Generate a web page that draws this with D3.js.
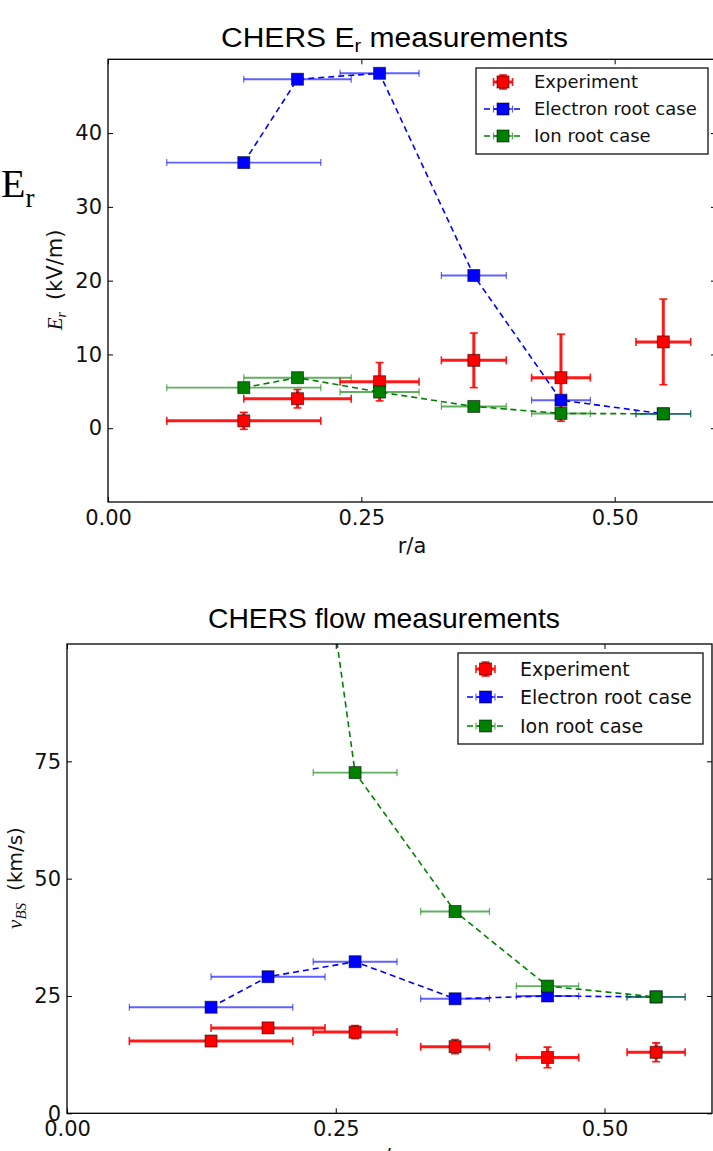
<!DOCTYPE html>
<html>
<head>
<meta charset="utf-8">
<script src="https://cdn.jsdelivr.net/npm/d3@7"></script>
<style>
  body { margin: 0; background: #fff; }
  svg { display: block; }
</style>
</head>
<body>
<svg width="713" height="1151"></svg>
<script>
// radial positions (r/a) and their horizontal error, shared by both panels
const radius = [0.134, 0.187, 0.268, 0.361, 0.447, 0.548]
const radiusErr = [0.076, 0.053, 0.039, 0.032, 0.029, 0.027]

// E_r panel (kV/m)
const erExperiment = [1.0, 4.0, 6.3, 9.2, 6.85, 11.7]
const erExperimentErr = [1.15, 1.25, 2.6, 3.7, 5.9, 5.8]
const erElectron = [36.0, 47.3, 48.1, 20.7, 3.8, 1.95]
const erIon = [5.5, 6.85, 4.9, 2.95, 2.0, 1.95]

// flow panel (km/s)
const flowExperiment = [15.4, 18.2, 17.3, 14.2, 11.9, 13.0]
const flowExperimentErr = [0.8, 0.8, 1.4, 1.5, 2.2, 2.0]
const flowElectron = [22.6, 29.1, 32.3, 24.4, 25.0, 24.8]
const flowIon = [260, 206, 72.6, 43.0, 27.1, 24.8]

const seriesNames = ['Experiment', 'Electron root case', 'Ion root case']
const seriesColors = ['#ff0000', '#0000ff', '#008000']

const xTicks = [0, 0.25, 0.5]
const erTicks = [0, 10, 20, 30, 40]
const flowTicks = [0, 25, 50, 75]

const svg = d3.select('svg')
const sans = 'DejaVu Sans, sans-serif'
const serif = 'Liberation Serif, serif'

function makeSeries(exp, expErr, electron, ion) {
  return [
    { name: seriesNames[0], color: seriesColors[0], values: exp, yErr: expErr, line: false },
    { name: seriesNames[1], color: seriesColors[1], values: electron, yErr: null, line: true },
    { name: seriesNames[2], color: seriesColors[2], values: ion, yErr: null, line: true },
  ]
}

function errorBar(g, x0, y0, x1, y1, color, exp, capAxis) {
  const w = exp ? 3 : 1.9
  const op = exp ? 0.9 : 0.62
  const cap = exp ? 4 : 3.5
  g.append('line').attr('x1', x0).attr('y1', y0).attr('x2', x1).attr('y2', y1)
    .attr('stroke', color).attr('stroke-width', w).attr('stroke-opacity', op)
  ;[[x0, y0], [x1, y1]].forEach(([cx, cy]) => {
    g.append('line')
      .attr('x1', capAxis == 'v' ? cx : cx - cap).attr('x2', capAxis == 'v' ? cx : cx + cap)
      .attr('y1', capAxis == 'v' ? cy - cap : cy).attr('y2', capAxis == 'v' ? cy + cap : cy)
      .attr('stroke', color).attr('stroke-width', exp ? 1.6 : 1.2).attr('stroke-opacity', op)
  })
}

function marker(g, cx, cy, color) {
  g.append('rect')
    .attr('x', cx - 6).attr('y', cy - 6).attr('width', 12).attr('height', 12)
    .attr('fill', color).attr('stroke', '#000').attr('stroke-opacity', 0.55).attr('stroke-width', 1)
}

function panel({ id, left, right, top, bottom, yDomain, yTicks, legend, xLabelY }, series) {
  const x = d3.scaleLinear([0, 0.6], [left, right])
  const y = d3.scaleLinear(yDomain, [bottom, top])
  const root = svg.append('g').attr('class', id)

  root.append('clipPath').attr('id', `clip-${id}`)
    .append('rect').attr('x', left).attr('y', top).attr('width', right - left).attr('height', bottom - top)

  const plot = root.append('g').attr('clip-path', `url(#clip-${id})`)

  series.forEach(s => {
    const g = plot.append('g')
    const exp = !s.line
    if (s.line) {
      g.append('path')
        .datum(s.values)
        .attr('d', d3.line().x((d, i) => x(radius[i])).y(d => y(d)))
        .attr('fill', 'none').attr('stroke', s.color).attr('stroke-width', 1.6)
        .attr('stroke-dasharray', '6,4')
    }
    s.values.forEach((v, i) => {
      errorBar(g, x(radius[i] - radiusErr[i]), y(v), x(radius[i] + radiusErr[i]), y(v), s.color, exp, 'v')
      if (s.yErr) errorBar(g, x(radius[i]), y(v - s.yErr[i]), x(radius[i]), y(v + s.yErr[i]), s.color, exp, 'h')
    })
    s.values.forEach((v, i) => marker(g, x(radius[i]), y(v), s.color))
  })

  // frame
  root.append('rect').attr('x', left).attr('y', top).attr('width', right - left).attr('height', bottom - top)
    .attr('fill', 'none').attr('stroke', '#000').attr('stroke-width', 1.3)

  const styleAxis = a => {
    a.select('.domain').remove()
    a.selectAll('line').attr('stroke', '#000').attr('stroke-width', 1)
    a.selectAll('text').attr('font-family', sans).attr('font-size', 21).attr('fill', '#111')
  }
  root.append('g').attr('transform', `translate(0,${ bottom })`)
    .call(d3.axisBottom(x).tickValues(xTicks).tickFormat(d3.format('.2f')).tickSizeInner(-5).tickSizeOuter(0).tickPadding(8))
    .call(styleAxis)
  root.append('g').attr('transform', `translate(0,${ top })`)
    .call(d3.axisTop(x).tickValues(xTicks).tickFormat('').tickSizeInner(-5).tickSizeOuter(0))
    .call(styleAxis)
  root.append('g').attr('transform', `translate(${ left },0)`)
    .call(d3.axisLeft(y).tickValues(yTicks).tickSizeInner(-5).tickSizeOuter(0).tickPadding(6))
    .call(styleAxis)
  root.append('g').attr('transform', `translate(${ right },0)`)
    .call(d3.axisRight(y).tickValues(yTicks).tickFormat('').tickSizeInner(-5).tickSizeOuter(0))
    .call(styleAxis)

  root.append('text')
    .attr('x', (left + right) / 2).attr('y', xLabelY)
    .attr('text-anchor', 'middle').attr('font-family', sans).attr('font-size', 21).attr('fill', '#111')
    .text('r/a')

  // legend
  const { x0, y0, w, h, rows, mx, tx, lx0, lx1, fs } = legend
  const lg = root.append('g')
  lg.append('rect').attr('x', x0).attr('y', y0).attr('width', w).attr('height', h)
    .attr('fill', '#fff').attr('stroke', '#222').attr('stroke-width', 1.4)
  series.forEach((s, i) => {
    const ry = rows[i]
    const exp = !s.line
    if (s.line) {
      lg.append('line').attr('x1', lx0).attr('x2', lx1).attr('y1', ry).attr('y2', ry)
        .attr('stroke', s.color).attr('stroke-width', 1.6).attr('stroke-dasharray', '6,4')
    }
    errorBar(lg, mx - 9.5, ry, mx + 9.5, ry, s.color, exp, 'v')
    if (s.yErr) errorBar(lg, mx, ry - 7, mx, ry + 7, s.color, exp, 'h')
    marker(lg, mx, ry, s.color)
    lg.append('text').attr('x', tx).attr('y', ry).attr('dy', '0.36em')
      .attr('font-family', sans).attr('font-size', fs).attr('fill', '#111')
      .text(s.name)
  })
  return { x, y }
}

panel({
  id: 'er', left: 108, right: 716, top: 59.3, bottom: 502,
  yDomain: [-10, 50], yTicks: erTicks, xLabelY: 553,
  legend: { x0: 476, y0: 68, w: 232, h: 86, rows: [82, 109, 136], mx: 503, tx: 534, lx0: 484, lx1: 521, fs: 18 },
}, makeSeries(erExperiment, erExperimentErr, erElectron, erIon))

panel({
  id: 'flow', left: 67, right: 712, top: 644, bottom: 1113.3,
  yDomain: [0, 100], yTicks: flowTicks, xLabelY: 1164,
  legend: { x0: 458, y0: 653, w: 245, h: 91, rows: [669, 697, 726], mx: 485.5, tx: 520, lx0: 467, lx1: 505, fs: 19 },
}, makeSeries(flowExperiment, flowExperimentErr, flowElectron, flowIon))

// titles
const t1 = svg.append('text').attr('x', 394.5).attr('y', 46.7).attr('text-anchor', 'middle')
  .attr('font-family', 'Liberation Sans, Arial, sans-serif').attr('font-size', 27).attr('fill', '#000')
  .attr('textLength', 347).attr('lengthAdjust', 'spacingAndGlyphs')
t1.append('tspan').text('CHERS E')
t1.append('tspan').attr('font-size', 18).attr('dy', 5).text('r')
t1.append('tspan').attr('dy', -5).text(' measurements')

svg.append('text').attr('x', 384).attr('y', 628).attr('text-anchor', 'middle')
  .attr('font-family', 'Liberation Sans, Arial, sans-serif').attr('font-size', 28).attr('fill', '#000')
  .attr('textLength', 352).attr('lengthAdjust', 'spacingAndGlyphs')
  .text('CHERS flow measurements')

// big serif E_r at left
const big = svg.append('text').attr('x', 1).attr('y', 197).attr('font-family', serif).attr('fill', '#000')
big.append('tspan').attr('font-size', 40).text('E')
big.append('tspan').attr('font-size', 27).attr('dy', 10).text('r')

// y axis labels
const yl1 = svg.append('text').attr('transform', 'translate(55,280) rotate(-90)')
  .attr('text-anchor', 'middle').attr('dy', '0.32em').attr('fill', '#111').attr('font-size', 21)
yl1.append('tspan').attr('font-family', serif).attr('font-style', 'italic').text('E')
yl1.append('tspan').attr('font-family', serif).attr('font-style', 'italic').attr('font-size', 14).attr('dy', 4).text('r')
yl1.append('tspan').attr('font-family', sans).attr('dy', -4).attr('dx', 12).text('(kV/m)')

const yl2 = svg.append('text').attr('transform', 'translate(15.5,878) rotate(-90)')
  .attr('text-anchor', 'middle').attr('dy', '0.32em').attr('fill', '#111').attr('font-size', 21)
yl2.append('tspan').attr('font-family', serif).attr('font-style', 'italic').text('v')
yl2.append('tspan').attr('font-family', serif).attr('font-style', 'italic').attr('font-size', 15).attr('dy', 4).text('BS')
yl2.append('tspan').attr('font-family', sans).attr('font-size', 20).attr('dy', -4).attr('dx', 12).text('(km/s)')
</script>
</body>
</html>
